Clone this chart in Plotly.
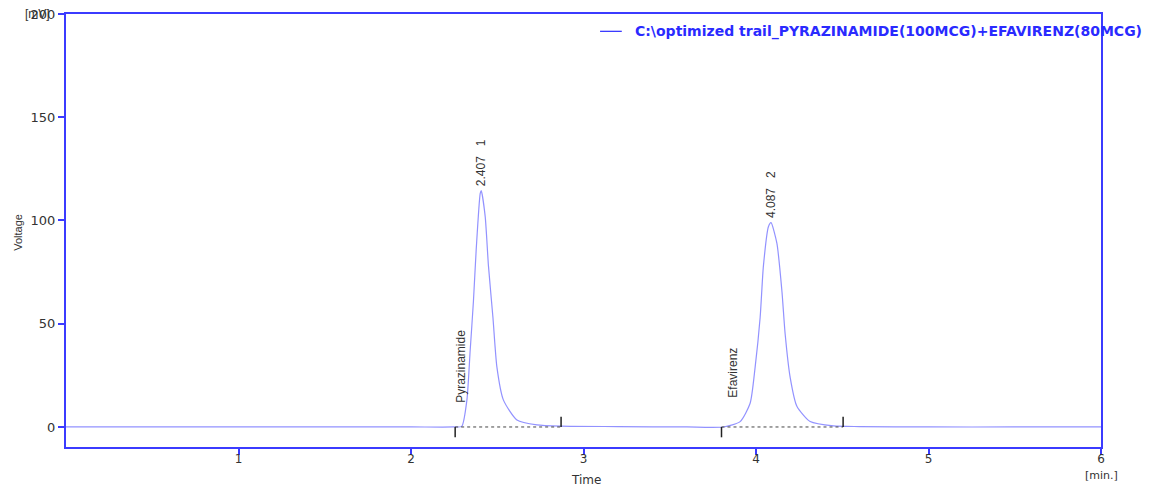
import plotly.graph_objects as go

# Chromatogram points (time in min, voltage in mV)
time_min = [0.0, 1.0, 2.0, 2.25, 2.294, 2.324, 2.343, 2.362, 2.378, 2.401, 2.407,
            2.43, 2.449, 2.475, 2.498, 2.536, 2.614, 2.73, 2.87, 3.2, 3.6, 3.811,
            3.908, 3.966, 3.995, 4.024, 4.043, 4.072, 4.087, 4.121, 4.150, 4.169,
            4.198, 4.237, 4.314, 4.449, 4.6, 5.0, 5.5, 6.0]
voltage_mv = [0.0, 0.0, 0.0, 0.0, 0.3, 13, 37, 61, 86, 113, 114.5,
              102, 78, 53, 29, 13, 3.4, 1.0, 0.4, 0.2, 0.0, 0.0,
              2.6, 11.5, 29, 53, 78, 97, 99, 89, 66, 45,
              24, 10, 2.6, 0.5, 0.2, 0.0, 0.0, 0.0]

peak_names = ["Pyrazinamide", "Efavirenz"]
peak_rt = [2.407, 4.087]
peak_height = [114.5, 99]
peak_num = ["1", "2"]
peak_start = [2.256, 3.80]
peak_end = [2.87, 4.505]

x_ticks = [1, 2, 3, 4, 5, 6]
y_ticks = [0, 50, 100, 150, 200]
legend_text = "C:\\optimized trail_PYRAZINAMIDE(100MCG)+EFAVIRENZ(80MCG)"

axis_blue = "#3b3bff"
trace_col = "rgba(110,110,255,0.75)"
txt_col = "#333333"
font_fam = "Liberation Sans, Arial, sans-serif"
wide_fam = "DejaVu Sans, sans-serif"

fig = go.Figure()
fig.add_trace(go.Scatter(x=time_min, y=voltage_mv, mode="lines",
                         line=dict(color=trace_col, width=1.2, shape="spline", smoothing=0.6),
                         showlegend=False, hoverinfo="skip"))

# integration baselines and markers
for s, e in zip(peak_start, peak_end):
    fig.add_trace(go.Scatter(x=[s, e], y=[0, 0], mode="lines",
                             line=dict(color="#444444", width=1, dash="dot"),
                             showlegend=False, hoverinfo="skip"))
    fig.add_trace(go.Scatter(x=[s, s], y=[0, -5], mode="lines",
                             line=dict(color="#222222", width=1.5),
                             showlegend=False, hoverinfo="skip"))
    fig.add_trace(go.Scatter(x=[e, e], y=[0, 5], mode="lines",
                             line=dict(color="#222222", width=1.5),
                             showlegend=False, hoverinfo="skip"))

annotations = []
for name, rt, h, n in zip(peak_names, peak_rt, peak_height, peak_num):
    annotations.append(dict(x=rt, y=h + 1, xref="x", yref="y", text=f"{rt:.3f}   {n}",
                            textangle=-90, showarrow=False, xanchor="center", yanchor="bottom",
                            font=dict(size=12, color=txt_col, family=font_fam)))
for name, x0, y0 in zip(peak_names, [2.29, 3.87], [10.5, 13]):
    annotations.append(dict(x=x0, y=y0, xref="x", yref="y", text=name,
                            textangle=-90, showarrow=False, xanchor="center", yanchor="bottom",
                            font=dict(size=12, color=txt_col, family=font_fam)))

annotations += [
    dict(x=-0.0135, y=1.0, xref="paper", yref="paper", text="[mV]", showarrow=False,
         xanchor="right", yanchor="middle", font=dict(size=12, color=txt_col, family=font_fam)),
    dict(x=1.0, y=-0.047, xref="paper", yref="paper", text="[min.]", showarrow=False,
         xanchor="center", yanchor="top", font=dict(size=11, color=txt_col, family=wide_fam)),
    dict(x=0.502, y=-0.055, xref="paper", yref="paper", text="Time", showarrow=False,
         xanchor="center", yanchor="top", font=dict(size=12, color=txt_col, family=wide_fam)),
    dict(x=-0.0464, y=0.497, xref="paper", yref="paper", text="Voltage", showarrow=False,
         textangle=-90, xanchor="center", yanchor="middle",
         font=dict(size=11, color=txt_col, family=font_fam)),
    dict(x=0.548, y=0.96, xref="paper", yref="paper", text="<b>" + legend_text + "</b>",
         showarrow=False, xanchor="left", yanchor="middle",
         font=dict(size=14, color="#2a2aff", family=wide_fam)),
]

fig.add_shape(type="line", xref="paper", yref="paper", x0=0.516, x1=0.537, y0=0.96, y1=0.96,
              line=dict(color="#2a2aff", width=1.2))

# page body has an 8px margin, so the figure is drawn 8px smaller and offset
fig.update_layout(
    width=1150, height=480,
    margin=dict(l=58, r=57, t=6, b=41, autoexpand=False),
    paper_bgcolor="white", plot_bgcolor="white",
    annotations=annotations,
    showlegend=False,
    xaxis=dict(range=[0, 6], tickvals=x_ticks, ticktext=[str(v) for v in x_ticks],
               showgrid=False, zeroline=False, showline=True, linecolor=axis_blue, linewidth=2,
               mirror=True, ticks="outside", tickcolor=axis_blue, ticklen=6, tickwidth=2,
               ticklabelstandoff=-6, ticklabeloverflow="allow",
               tickfont=dict(size=12, color=txt_col, family=wide_fam)),
    yaxis=dict(range=[-9.7, 200], tickvals=y_ticks, ticktext=[str(v) for v in y_ticks],
               showgrid=False, zeroline=False, showline=True, linecolor=axis_blue, linewidth=2,
               mirror=True, ticks="outside", tickcolor=axis_blue, ticklen=6, tickwidth=2,
               ticklabeloverflow="allow",
               tickfont=dict(size=13, color=txt_col, family=wide_fam)),
)

fig.write_html("out.html")
